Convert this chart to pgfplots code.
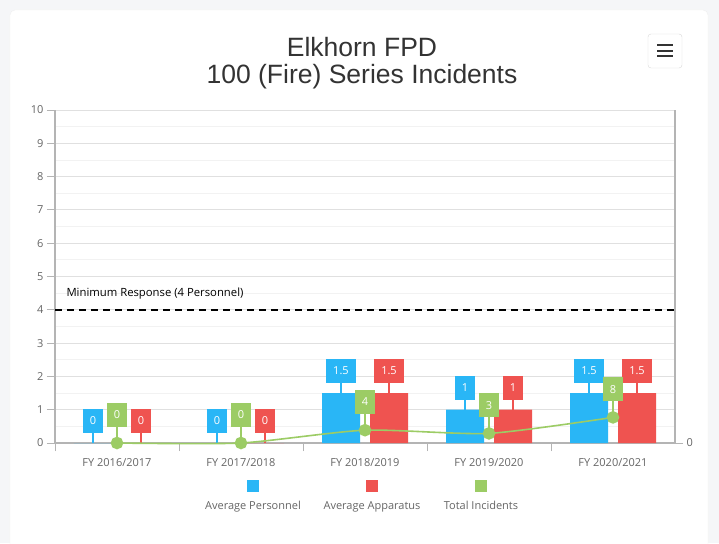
\documentclass[border=0pt]{standalone}
\usepackage{fontspec}
\setmainfont{Open Sans}
\newfontfamily\titlefont{Liberation Sans}
\usepackage{pgfplots}
\usepackage{pgfplotstable}
\pgfplotsset{compat=1.18}

\definecolor{cblue}{RGB}{41,182,246}
\definecolor{cred}{RGB}{239,83,80}
\definecolor{cgreen}{RGB}{156,204,101}
\definecolor{pagebg}{RGB}{245,246,248}
\definecolor{axisgray}{RGB}{180,180,180}
\definecolor{ticktext}{RGB}{102,102,102}
\definecolor{titletext}{RGB}{51,51,51}

\pgfplotstableread{
x pers app inc
0 0 0 0
1 0 0 0
2 1.5 1.5 4
3 1 1 3
4 1.5 1.5 8
}\datatable

\tikzset{
  labelbox/.style n args={3}{anchor=south, yshift=#2, xshift=#3, fill=#1, text=white,
    font=\fontsize{11}{13}\selectfont, inner xsep=7pt, inner ysep=0pt,
    minimum height=24pt},
}

\begin{document}
\begin{tikzpicture}[x=1pt,y=1pt]
\path[use as bounding box, fill=pagebg] (-55,-100) rectangle (664,443);
\filldraw[fill=white, draw=gray!12, rounded corners=5pt] (-45,-115) rectangle (653,433);

\node[anchor=base, font=\titlefont\fontsize{26.5}{30}\selectfont, text=titletext] at (307,386) {Elkhorn FPD};
\node[anchor=base, font=\titlefont\fontsize{26.5}{30}\selectfont, text=titletext] at (307,359) {100 (Fire) Series Incidents};

\filldraw[fill=white, draw=gray!30, rounded corners=3pt] (593,375) rectangle (627,409);
\foreach \yy in {386.5,392,397.5} \draw[titletext, line width=2pt] (602,\yy) -- (618,\yy);

\begin{axis}[
  at={(0,0)}, anchor=south west,
  scale only axis, width=620pt, height=333pt,
  xmin=-0.5, xmax=4.5, ymin=0, ymax=10,
  axis x line*=bottom, axis y line*=left,
  axis line style={axisgray, line width=1.2pt, -},
  xtick={-0.5,0.5,1.5,2.5,3.5},
  xticklabels={FY 2016/2017,FY 2017/2018,FY 2018/2019,FY 2019/2020,FY 2020/2021},
  x tick label style={xshift=62pt, yshift=-4pt, font=\fontsize{11}{13}\selectfont, text=ticktext},
  ytick={0,...,10},
  y tick label style={font=\fontsize{11}{13}\selectfont, text=ticktext},
  /pgf/number format/assume math mode=true,
  minor y tick num=1,
  ymajorgrids, yminorgrids,
  major grid style={draw=black!12, line width=0.8pt},
  minor grid style={draw=black!5, line width=0.8pt},
  tick align=outside, major tick length=8pt, minor tick length=0pt,
  tick style={axisgray, line width=0.8pt},
  clip=false,
]
\addplot[black, line width=1.6pt, dash pattern=on 7pt off 5pt] coordinates {(-0.5,4) (4.5,4)};
\node[anchor=base west, font=\fontsize{11.3}{13}\selectfont, xshift=8pt, yshift=13pt] at (axis cs:-0.5,4) {Minimum Response (4 Personnel)};

\addplot[ybar, bar width=38pt, bar shift=-24pt, fill=cblue, draw=none]
  table[x=x, y=pers] {\datatable};
\addplot[ybar, bar width=38pt, bar shift=24pt, fill=cred, draw=none]
  table[x=x, y=app] {\datatable};
\addplot[cblue, only marks, mark=none,
  error bars/.cd, y dir=plus, y fixed=0.3, error mark=none,
  error bar style={draw=cblue, line width=1.3pt, xshift=-24pt}]
  table[x=x, y=pers] {\datatable};
\addplot[cred, only marks, mark=none,
  error bars/.cd, y dir=plus, y fixed=0.3, error mark=none,
  error bar style={draw=cred, line width=1.3pt, xshift=24pt}]
  table[x=x, y=app] {\datatable};
\addplot[draw=none, mark=none, nodes near coords,
  every node near coord/.append style={labelbox={cblue}{10pt}{-24pt}}]
  table[x=x, y=pers] {\datatable};
\addplot[draw=none, mark=none, nodes near coords,
  every node near coord/.append style={labelbox={cred}{10pt}{24pt}}]
  table[x=x, y=app] {\datatable};
\end{axis}

\begin{axis}[
  at={(0,0)}, anchor=south west,
  scale only axis, width=620pt, height=333pt,
  xmin=-0.5, xmax=4.5, ymin=0, ymax=104,
  axis x line=none, axis y line*=right,
  axis line style={axisgray, line width=1.2pt, -},
  ytick={0},
  y tick label style={font=\fontsize{11}{13}\selectfont, text=ticktext},
  /pgf/number format/assume math mode=true,
  tick align=outside, major tick length=8pt,
  tick style={axisgray, line width=0.8pt},
  clip=false,
]
\addplot[cgreen, only marks, mark=none,
  error bars/.cd, y dir=plus, y fixed=5, error mark=none,
  error bar style={draw=cgreen, line width=1.3pt}]
  table[x=x, y=inc] {\datatable};
\addplot[cgreen, line width=1.6pt, smooth, tension=0.4, mark=*, mark size=5.5pt,
  mark options={fill=cgreen, draw=cgreen}]
  table[x=x, y=inc] {\datatable};
\addplot[draw=none, mark=none, nodes near coords,
  every node near coord/.append style={labelbox={cgreen}{16pt}{0pt}}]
  table[x=x, y=inc] {\datatable};
\end{axis}

\fill[cblue] (192,-49) rectangle (204,-37);
\fill[cred] (311,-49) rectangle (323,-37);
\fill[cgreen] (420,-49) rectangle (432,-37);
\node[anchor=base, font=\fontsize{11}{13}\selectfont, text=ticktext] at (198,-66) {Average Personnel};
\node[anchor=base, font=\fontsize{11}{13}\selectfont, text=ticktext] at (317,-66) {Average Apparatus};
\node[anchor=base, font=\fontsize{11}{13}\selectfont, text=ticktext] at (426,-66) {Total Incidents};
\end{tikzpicture}
\end{document}
